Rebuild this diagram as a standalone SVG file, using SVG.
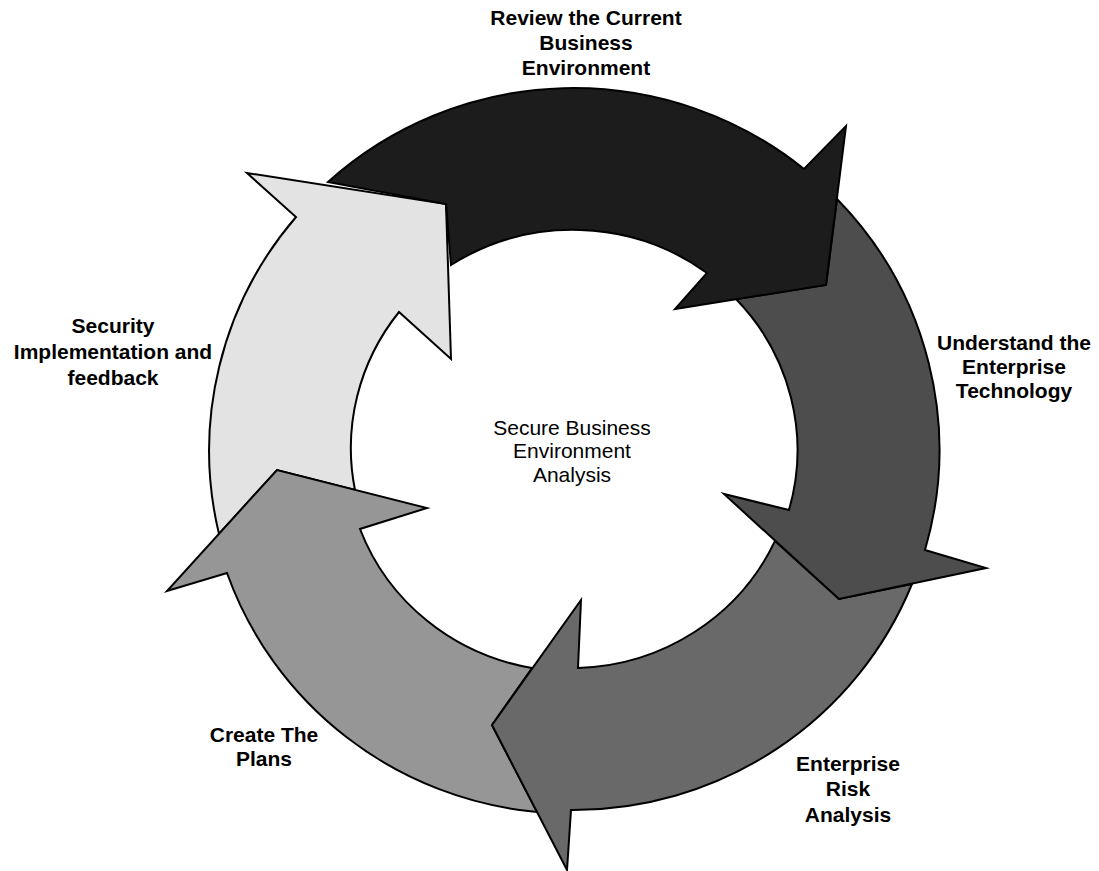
<svg xmlns="http://www.w3.org/2000/svg" width="1099" height="871" viewBox="0 0 1099 871">
<style>
.arrow{stroke:#000;stroke-width:2;stroke-linejoin:miter;stroke-miterlimit:10}
.lbl{font-family:"Liberation Sans",Arial,sans-serif;font-size:21px;font-weight:bold;text-anchor:middle;fill:#000}
.ctr{font-family:"Liberation Sans",Arial,sans-serif;font-size:21px;text-anchor:middle;fill:#000}
</style>
<rect width="1099" height="871" fill="#fff"/>
<g id="connectors">
<g id="arrow-security">
<path class="arrow" fill="#e3e3e3" d="M219,534 A365,361 0 0 1 296,217 L247,173 L446,204 L451,359 L399,312 A225,220 0 0 0 355,490 L277,470 Z"/>
</g>
<g id="arrow-plans">
<path class="arrow" fill="#969696" d="M537,812 A365,361 0 0 1 227,573 L167,591 L277,470 L427,508 L360,529 A225,220 0 0 0 532,668 L492,725 Z"/>
</g>
<g id="arrow-risk">
<path class="arrow" fill="#696969" d="M912,584 A365,361 0 0 1 571,810 L567,870 L492,725 L581,600 L578,668 A225,220 0 0 0 775,541 L839,599 Z"/>
</g>
<g id="arrow-understand">
<path class="arrow" fill="#4d4d4d" d="M837,199 A365,361 0 0 1 925,550 L986,568 L839,599 L724,494 L789,510 A225,220 0 0 0 736,299 L826,285 Z"/>
</g>
<g id="arrow-review">
<path class="arrow" fill="#1c1c1c" d="M328,182 L446,204 L451,265 A225,220 0 0 1 707,273 L675,309 L826,285 L846,126 L804,169 A365,361 0 0 0 328,182 Z"/>
</g>
</g>
<g id="node-review">
<text class="lbl" x="586" y="25">Review the Current</text>
<text class="lbl" x="586" y="50">Business</text>
<text class="lbl" x="586" y="75">Environment</text>
</g>
<g id="node-understand">
<text class="lbl" x="1014" y="350">Understand the</text>
<text class="lbl" x="1014" y="374">Enterprise</text>
<text class="lbl" x="1014" y="398">Technology</text>
</g>
<g id="node-risk">
<text class="lbl" x="848" y="771">Enterprise</text>
<text class="lbl" x="848" y="796">Risk</text>
<text class="lbl" x="848" y="822">Analysis</text>
</g>
<g id="node-plans">
<text class="lbl" x="264" y="742">Create The</text>
<text class="lbl" x="264" y="766">Plans</text>
</g>
<g id="node-security">
<text class="lbl" x="113" y="333">Security</text>
<text class="lbl" x="113" y="359">Implementation and</text>
<text class="lbl" x="113" y="385">feedback</text>
</g>
<g id="node-center">
<text class="ctr" x="572" y="435">Secure Business</text>
<text class="ctr" x="572" y="458">Environment</text>
<text class="ctr" x="572" y="482">Analysis</text>
</g>
</svg>
